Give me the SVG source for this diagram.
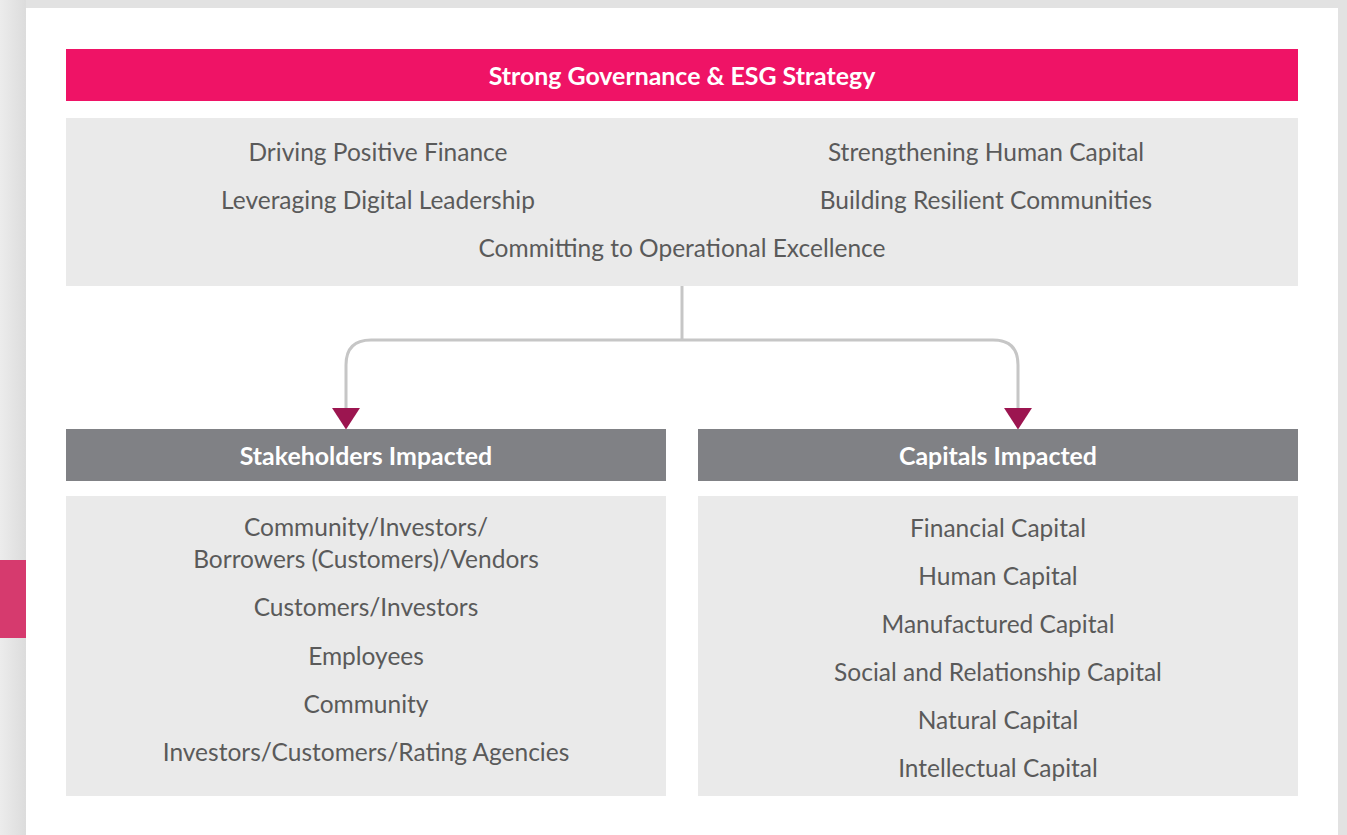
<svg xmlns="http://www.w3.org/2000/svg" width="1347" height="835" viewBox="0 0 1347 835">
<defs>
<linearGradient id="bgl" x1="0" y1="0" x2="1" y2="0"><stop offset="0" stop-color="#ececec"/><stop offset="1" stop-color="#dcdcdc"/></linearGradient>
<marker id="arr" markerUnits="userSpaceOnUse" markerWidth="22" markerHeight="28" refX="1" refY="13" orient="auto" viewBox="0 0 20 26"><path d="M0,0 L20,13 L0,26 Z" fill="#9c1550"/></marker>
<style>
.t{font-family:Lato,"Open Sans","Liberation Sans",sans-serif;font-size:24.5px;fill:#5a5a5a;text-anchor:middle}
.h{font-family:Lato,"Open Sans","Liberation Sans",sans-serif;font-size:24.9px;font-weight:bold;fill:#ffffff;text-anchor:middle}
.box{fill:#eaeaea}
.hd{fill:#808185}
.c{fill:none;stroke:#c6c6c6;stroke-width:3}
</style>
</defs>
<rect x="0" y="0" width="1347" height="835" fill="#e2e2e2"/>
<rect x="0" y="0" width="26" height="835" fill="url(#bgl)"/>
<rect x="26" y="8" width="1312" height="827" fill="#ffffff"/>
<rect x="0" y="560" width="26" height="78" fill="#d63a6e"/>
<g id="top">
<rect x="66" y="49" width="1232" height="52" fill="#ef1366"/>
<text class="h" x="682" y="85">Strong Governance &amp; ESG Strategy</text>
</g>
<g id="pillars">
<rect class="box" x="66" y="118" width="1232" height="168"/>
<text class="t" x="378" y="161">Driving Positive Finance</text>
<text class="t" x="986" y="161">Strengthening Human Capital</text>
<text class="t" x="378" y="209">Leveraging Digital Leadership</text>
<text class="t" x="986" y="209">Building Resilient Communities</text>
<text class="t" x="682" y="257">Committing to Operational Excellence</text>
</g>
<g id="connectors">
<path class="c" d="M682,286 V340"/>
<path class="c" d="M682,340 H371 Q346,340 346,365 V409" marker-end="url(#arr)"/>
<path class="c" d="M682,340 H993 Q1018,340 1018,365 V409" marker-end="url(#arr)"/>
</g>
<g id="stakeholders">
<rect class="hd" x="66" y="429" width="600" height="52"/>
<text class="h" x="366" y="465">Stakeholders Impacted</text>
<rect class="box" x="66" y="496" width="600" height="300"/>
<text class="t" x="366" y="536">Community/Investors/</text>
<text class="t" x="366" y="568">Borrowers (Customers)/Vendors</text>
<text class="t" x="366" y="616">Customers/Investors</text>
<text class="t" x="366" y="665">Employees</text>
<text class="t" x="366" y="713">Community</text>
<text class="t" x="366" y="761">Investors/Customers/Rating Agencies</text>
</g>
<g id="capitals">
<rect class="hd" x="698" y="429" width="600" height="52"/>
<text class="h" x="998" y="465">Capitals Impacted</text>
<rect class="box" x="698" y="496" width="600" height="300"/>
<text class="t" x="998" y="537">Financial Capital</text>
<text class="t" x="998" y="585">Human Capital</text>
<text class="t" x="998" y="633">Manufactured Capital</text>
<text class="t" x="998" y="681">Social and Relationship Capital</text>
<text class="t" x="998" y="729">Natural Capital</text>
<text class="t" x="998" y="777">Intellectual Capital</text>
</g>
</svg>
